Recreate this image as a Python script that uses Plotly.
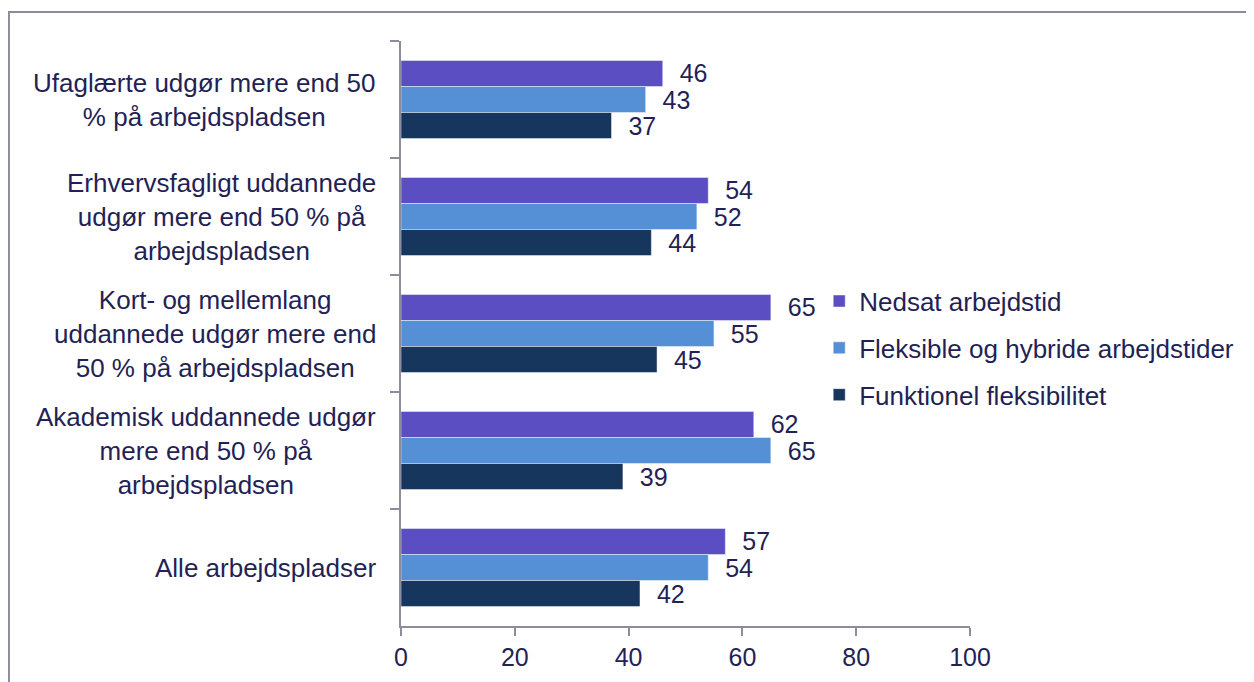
import plotly.graph_objs as go

categories = [
    "Ufaglærte udgør mere end 50<br>% på arbejdspladsen",
    "Erhvervsfagligt uddannede<br>udgør mere end 50 % på<br>arbejdspladsen",
    "Kort- og mellemlang<br>uddannede udgør mere end<br>50 % på arbejdspladsen",
    "Akademisk uddannede udgør<br>mere end 50 % på<br>arbejdspladsen",
    "Alle arbejdspladser",
]
nedsat = [46, 54, 65, 62, 57]
fleksible = [43, 52, 55, 65, 54]
funktionel = [37, 44, 45, 39, 42]

series = [
    ("Nedsat arbejdstid", nedsat, "#5A4EC2"),
    ("Fleksible og hybride arbejdstider", fleksible, "#5590D6"),
    ("Funktionel fleksibilitet", funktionel, "#17365D"),
]

TEXT = "#241F55"
GREY = "#8C8C9C"
FONT = "Liberation Sans, Arial, sans-serif"

fig = go.Figure()
for name, vals, color in series:
    fig.add_trace(go.Bar(
        y=categories,
        x=vals,
        name=name,
        orientation="h",
        marker=dict(color=color, line=dict(color="rgba(255,255,255,0.45)", width=1)),
        text=["\u00a0\u00a0" + str(v) for v in vals],
        textposition="outside",
        constraintext="none",
        textfont=dict(size=25, color=TEXT, family=FONT),
        cliponaxis=False,
        legendgroup=name,
    ))

# category labels, centred like the original
for c in categories:
    fig.add_annotation(
        x=0, xref="paper", xshift=-23, xanchor="right",
        y=c, yref="y", yanchor="middle",
        text=c, align="center", showarrow=False,
        font=dict(size=26, color=TEXT, family=FONT),
    )

# page has an 8px body margin, so the figure is 8px smaller and margins shifted
fig.update_layout(
    width=1246,
    height=674,
    margin=dict(l=393, r=284, t=33, b=56),
    barmode="group",
    bargap=0.333,
    bargroupgap=0,
    plot_bgcolor="white",
    paper_bgcolor="white",
    font=dict(family=FONT, color=TEXT, size=25),
    xaxis=dict(
        range=[0, 100], dtick=20, showgrid=False, zeroline=False,
        showline=True, linecolor=GREY, linewidth=2,
        ticks="outside", ticklen=8, tickcolor=GREY, tickwidth=2,
        tickfont=dict(size=25, color=TEXT), fixedrange=True,
    ),
    yaxis=dict(
        autorange="reversed", showticklabels=False, showgrid=False,
        showline=True, linecolor=GREY, linewidth=2,
        ticks="outside", ticklen=9, tickcolor=GREY, tickwidth=2,
        tickson="boundaries",
    ),
    legend=dict(
        x=0.735, xanchor="left", y=0.475, yanchor="middle",
        font=dict(size=26, color=TEXT), tracegroupgap=10,
        bgcolor="rgba(0,0,0,0)",
    ),
    shapes=[dict(
        type="rect", xref="paper", yref="paper",
        x0=-0.689, x1=1.6, y0=-0.3, y1=1.0496,
        line=dict(color=GREY, width=2), fillcolor="rgba(0,0,0,0)",
    )],
)

fig.write_html("out.html")
